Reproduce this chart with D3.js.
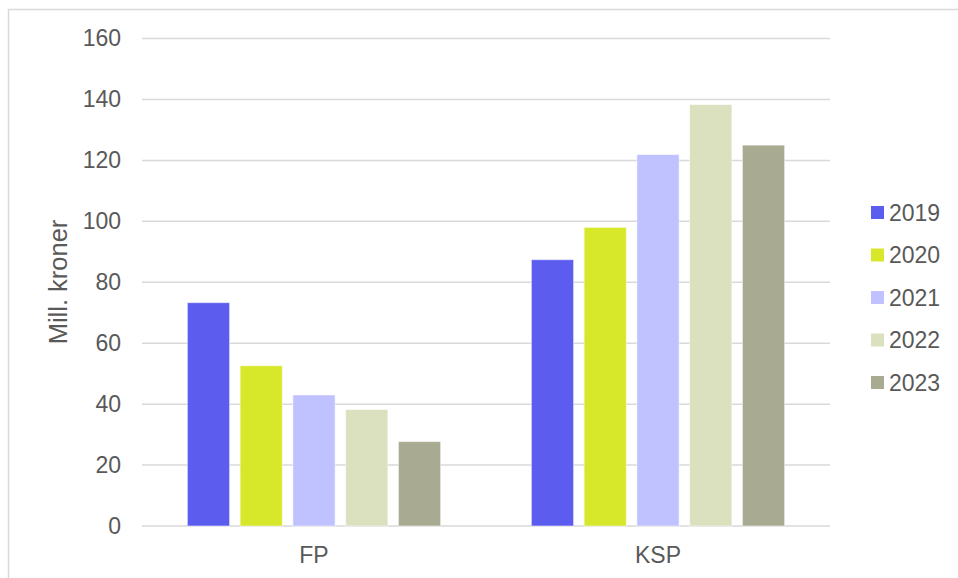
<!DOCTYPE html>
<html>
<head>
<meta charset="utf-8">
<script src="https://cdn.jsdelivr.net/npm/d3@7"></script>
<style>
  html, body { margin: 0; padding: 0; background: #fff; }
  svg { display: block; }
  text { font-family: "Liberation Sans", Arial, sans-serif; fill: #595959; }
</style>
</head>
<body>
<svg id="chart" width="958" height="578"></svg>
<script>
const categories = ["FP", "KSP"];
const years = ["2019", "2020", "2021", "2022", "2023"];
const values2019 = [73.3, 87.4];
const values2020 = [52.6, 98.0];
const values2021 = [43.0, 121.9];
const values2022 = [38.2, 138.3];
const values2023 = [27.7, 125.0];
const yTicks = [0, 20, 40, 60, 80, 100, 120, 140, 160];
const colors = ["#5c5cef", "#d7e82b", "#c0c1ff", "#dbe0bf", "#a8ab91"];
const yTitle = "Mill. kroner";

const seriesValues = [values2019, values2020, values2021, values2022, values2023];

const svg = d3.select("#chart");

// outer chart border
svg.append("rect")
  .attr("x", 8.5).attr("y", 9.5)
  .attr("width", 1000).attr("height", 1000)
  .attr("fill", "none").attr("stroke", "#d9d9d9").attr("stroke-width", 1.5);

const plot = { left: 142, right: 830, top: 38.5, bottom: 526 };

const x0 = d3.scaleBand().domain(categories).range([plot.left, plot.right]).padding(0);
const x1 = d3.scaleBand().domain(years).range([0, x0.bandwidth()])
  .paddingInner(0.2).paddingOuter(0.86);
const y = d3.scaleLinear().domain([0, 160]).range([plot.bottom, plot.top]);

// gridlines
svg.append("g").selectAll("line").data(yTicks).join("line")
  .attr("x1", plot.left).attr("x2", plot.right)
  .attr("y1", d => y(d)).attr("y2", d => y(d))
  .attr("stroke", "#d9d9d9").attr("stroke-width", 1.5);

// y axis labels
const yAxis = d3.axisLeft(y).tickValues(yTicks).tickSize(0).tickPadding(0);
const yg = svg.append("g").attr("transform", `translate(121,0)`).call(yAxis);
yg.select(".domain").remove();
yg.selectAll("text")
  .attr("font-size", 23).attr("fill", "#595959")
  .style("font-family", "'Liberation Sans', Arial, sans-serif");

// bars
const groups = svg.append("g").selectAll("g").data(categories).join("g")
  .attr("transform", d => `translate(${x0(d)},0)`);

groups.selectAll("rect")
  .data((c, ci) => years.map((yr, si) => ({ yr, si, v: seriesValues[si][ci] })))
  .join("rect")
  .attr("x", d => x1(d.yr))
  .attr("width", x1.bandwidth())
  .attr("y", d => y(d.v))
  .attr("height", d => y(0) - y(d.v))
  .attr("fill", d => colors[d.si])
  .attr("stroke", "rgba(255,255,255,0.5)").attr("stroke-width", 1);

// x axis labels
const xAxis = d3.axisBottom(x0).tickSize(0).tickPadding(0);
const xg = svg.append("g").attr("transform", `translate(0,563)`).call(xAxis);
xg.select(".domain").remove();
xg.selectAll("text")
  .attr("dy", 0).attr("y", 0)
  .attr("font-size", 23).attr("fill", "#595959")
  .style("font-family", "'Liberation Sans', Arial, sans-serif");

// y title
svg.append("text")
  .attr("transform", "translate(67,282) rotate(-90)")
  .attr("text-anchor", "middle")
  .attr("font-size", 25.5)
  .text(yTitle);

// legend
const legend = svg.append("g").selectAll("g").data(years).join("g")
  .attr("transform", (d, i) => `translate(871,${212.5 + i * 42.5})`);
legend.append("rect")
  .attr("x", 0).attr("y", -6.5).attr("width", 13).attr("height", 13)
  .attr("fill", (d, i) => colors[i]);
legend.append("text")
  .attr("x", 18).attr("y", 0).attr("dy", "0.35em")
  .attr("font-size", 23)
  .text(d => d);
</script>
</body>
</html>
